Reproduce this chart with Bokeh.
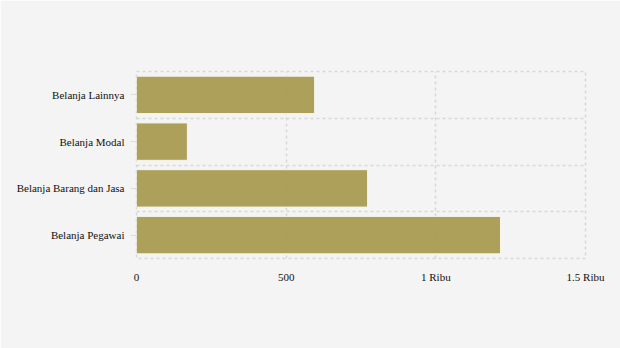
from bokeh.plotting import figure
from bokeh.models import FixedTicker, Range1d
from bokeh.embed import file_html
from bokeh.resources import INLINE

categories = ["Belanja Pegawai", "Belanja Barang dan Jasa", "Belanja Modal", "Belanja Lainnya"]
values = [1216, 772, 170, 595]
x_ticks = [0, 500, 1000, 1500]
x_labels = ["0", "500", "1 Ribu", "1.5 Ribu"]

BG = "#f4f4f4"
FONT = "Liberation Serif"

p = figure(width=620, height=348, output_backend="svg", toolbar_location=None,
           x_range=Range1d(0, 1500), y_range=Range1d(0, len(categories)),
           min_border_left=136, min_border_right=35, min_border_top=71, min_border_bottom=90)
p.background_fill_color = BG
p.border_fill_color = BG
p.outline_line_color = "#d8d8d8"
p.outline_line_dash = "3 3"
p.outline_line_width = 1.5

ys = [i + 0.5 for i in range(len(categories))]
p.hbar(y=ys, right=values, left=0, height=0.8,
       fill_color="#a5974a", fill_alpha=0.9, line_color="#f4f4ea", line_width=1)

# x axis
p.xaxis.ticker = FixedTicker(ticks=x_ticks)
p.xaxis.major_label_overrides = {t: l for t, l in zip(x_ticks, x_labels)}
p.xaxis.axis_line_color = None
p.xaxis.major_tick_line_color = None
p.xaxis.minor_tick_line_color = None
p.xaxis.major_tick_out = 0
p.xaxis.major_label_standoff = 12
p.xaxis.major_label_text_font = FONT
p.xaxis.major_label_text_font_size = "11px"
p.xaxis.major_label_text_color = "#111111"

# y axis
p.yaxis.ticker = FixedTicker(ticks=ys)
p.yaxis.major_label_overrides = {y: c for y, c in zip(ys, categories)}
p.yaxis.axis_line_color = None
p.yaxis.minor_tick_line_color = None
p.yaxis.major_tick_line_color = "#dddddd"
p.yaxis.major_tick_out = 6
p.yaxis.major_tick_in = 0
p.yaxis.major_label_standoff = 6
p.yaxis.major_label_text_font = FONT
p.yaxis.major_label_text_font_size = "11px"
p.yaxis.major_label_text_color = "#111111"

# grids
p.xgrid.ticker = FixedTicker(ticks=x_ticks)
p.ygrid.ticker = FixedTicker(ticks=list(range(len(categories) + 1)))
for g in (p.xgrid, p.ygrid):
    g.grid_line_color = "#d8d8d8"
    g.grid_line_dash = "3 3"
    g.grid_line_width = 1.5

open("out.html", "w").write(file_html(p, INLINE))
